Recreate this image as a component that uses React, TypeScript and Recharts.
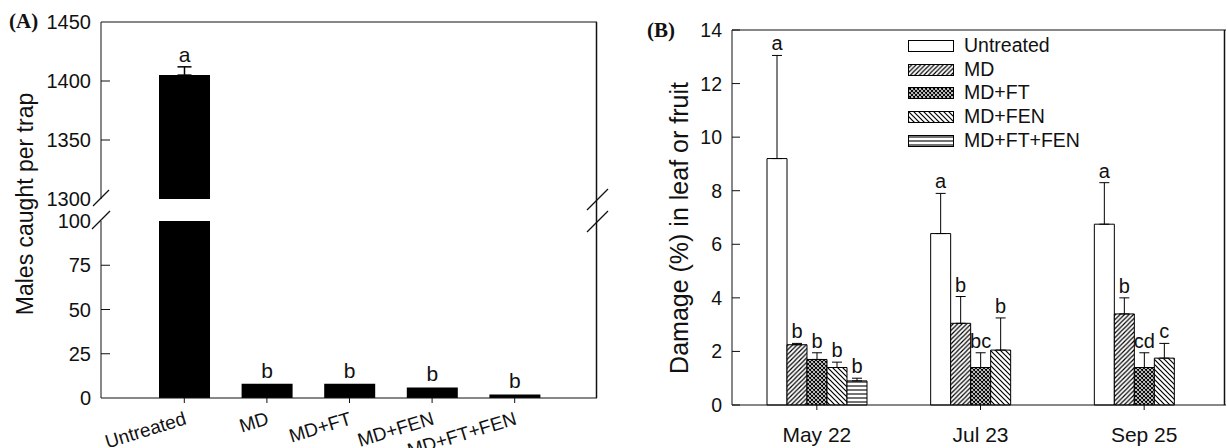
import React from 'react';
import { BarChart, Bar, XAxis, YAxis, ErrorBar, LabelList, Legend, CartesianGrid } from 'recharts';

const FONT = '"Liberation Sans", Arial, Helvetica, sans-serif';
const SERIF = '"Liberation Serif", "Times New Roman", serif';
const INK = '#111';

// ---------- Panel A data ----------
const treatments = ['Untreated', 'MD', 'MD+FT', 'MD+FEN', 'MD+FT+FEN'];
const malesCaught = [1405, 8, 8, 6, 2];
const malesCaughtSE = [7, 0, 0, 0, 0];
const malesLetters = ['a', 'b', 'b', 'b', 'b'];
const upperDomain = [1300, 1450];
const lowerDomain = [0, 100];
const upperTicks = [1300, 1350, 1400, 1450];
const lowerTicks = [0, 25, 50, 75, 100];

// ---------- Panel B data ----------
const dates = ['May 22', 'Jul 23', 'Sep 25'];
const dmgUntreated = [9.2, 6.4, 6.75];
const dmgMD = [2.25, 3.05, 3.4];
const dmgMDFT = [1.7, 1.4, 1.4];
const dmgMDFEN = [1.4, 2.05, 1.75];
const dmgMDFTFEN = [0.9, 0, 0];
const seUntreated = [3.85, 1.5, 1.55];
const seMD = [0.05, 1.0, 0.6];
const seMDFT = [0.25, 0.55, 0.55];
const seMDFEN = [0.2, 1.2, 0.55];
const seMDFTFEN = [0.1, 0, 0];
const letUntreated = ['a', 'a', 'a'];
const letMD = ['b', 'b', 'b'];
const letMDFT = ['b', 'bc', 'cd'];
const letMDFEN = ['b', 'b', 'c'];
const letMDFTFEN = ['b', 'c', 'd'];
const damageDomain = [0, 14];
const damageTicks = [0, 2, 4, 6, 8, 10, 12, 14];

// ---------- layout constants (frame geometry, not data) ----------
const A_PLOT_H = 177;
const B_PLOT_H = 375;
const A_LEFT = 101, A_RIGHT = 597, A_TOP = 22, A_BOTTOM = 398;
const B_LEFT = 732, B_RIGHT = 1226, B_TOP = 30, B_BOTTOM = 405;

const seriesB = [
  { key: 's0', name: treatments[0], fill: '#ffffff', values: dmgUntreated, se: seUntreated, letters: letUntreated },
  { key: 's1', name: treatments[1], fill: 'url(#patMD)', values: dmgMD, se: seMD, letters: letMD },
  { key: 's2', name: treatments[2], fill: 'url(#patMDFT)', values: dmgMDFT, se: seMDFT, letters: letMDFT },
  { key: 's3', name: treatments[3], fill: 'url(#patMDFEN)', values: dmgMDFEN, se: seMDFEN, letters: letMDFEN },
  { key: 's4', name: treatments[4], fill: 'url(#patMDFTFEN)', values: dmgMDFTFEN, se: seMDFTFEN, letters: letMDFTFEN },
];

function letterLabel(letters: (string | null)[], se: number[], ppu: number, fontSize: number, gap: number) {
  return (props: any) => {
    const vb = props.viewBox || {};
    const x = props.x ?? vb.x;
    const y = props.y ?? vb.y;
    const w = props.width ?? vb.width;
    const h = props.height ?? vb.height ?? 0;
    const i = props.index;
    const v = props.value;
    if (v == null || i == null || letters[i] == null || x == null || y == null) return null;
    const top = Math.min(y, y + h);
    const yy = top - (se[i] || 0) * ppu - (v === 0 ? gap * 2 : gap);
    return (
      <text x={x + w / 2} y={yy} textAnchor="middle" fontSize={fontSize} fontFamily={FONT} fill={INK}>
        {letters[i]}
      </text>
    );
  };
}

function makeYTick(fontSize: number, len: number, skip: number[]) {
  return (props: any) => {
    const { x, y, payload } = props;
    const axisX = x + 10;
    return (
      <g>
        {!skip.includes(payload.value) && (
          <line x1={axisX} x2={axisX + len} y1={y} y2={y} stroke={INK} strokeWidth={1} />
        )}
        <text x={x} y={y} dy="0.36em" textAnchor="end" fontSize={fontSize} fontFamily={FONT} fill={INK}>
          {payload.value}
        </text>
      </g>
    );
  };
}

const SlantTick = (props: any) => {
  const { x, y, payload } = props;
  return (
    <text
      transform={`translate(${x + 3},${y + 21}) rotate(-17)`}
      textAnchor="end"
      fontSize={19}
      fontFamily={FONT}
      fill={INK}
    >
      {payload.value}
    </text>
  );
};

const renderLegend = () => (
  <div style={{ fontFamily: FONT, fontSize: 19.5, color: INK }}>
    {seriesB.map((s) => (
      <div key={s.key} style={{ display: 'flex', alignItems: 'center', height: 23.7, whiteSpace: 'nowrap' }}>
        <svg width={46} height={12} style={{ display: 'block' }}>
          <rect x={0.5} y={0.5} width={45} height={11} fill={s.fill} stroke="#000" strokeWidth={1} />
        </svg>
        <span style={{ marginLeft: 10, lineHeight: '23.7px' }}>{s.name}</span>
      </div>
    ))}
  </div>
);

// top edge of the plot area, from the chart's own offset
const topEdge = (p: any) => [p.offset.top];

export default function App() {
  const upperData = treatments.map((t, i) => ({
    name: t,
    value: malesCaught[i] > upperDomain[0] ? malesCaught[i] : null,
    err: [0, malesCaughtSE[i]],
  }));
  const lowerData = treatments.map((t, i) => ({ name: t, value: malesCaught[i] }));
  const upperLetters = malesLetters.map((l, i) => (malesCaught[i] > upperDomain[0] ? l : null));
  const lowerLetters = malesLetters.map((l, i) => (malesCaught[i] <= lowerDomain[1] ? l : null));
  const upperPPU = A_PLOT_H / (upperDomain[1] - upperDomain[0]);
  const lowerPPU = A_PLOT_H / (lowerDomain[1] - lowerDomain[0]);
  const bPPU = B_PLOT_H / (damageDomain[1] - damageDomain[0]);

  const dataB = dates.map((d, i) => {
    const row: any = { date: d };
    seriesB.forEach((s) => {
      row[s.key] = s.values[i];
      row[s.key + 'e'] = [0, s.se[i]];
    });
    return row;
  });

  const axisStroke = { stroke: INK, strokeWidth: 1 };

  return (
    <div style={{ position: 'absolute', left: 0, top: 0, width: 1227, height: 448, background: '#fff', overflow: 'hidden' }}>
      <svg width={0} height={0} style={{ position: 'absolute' }}>
        <defs>
          <pattern id="patMD" patternUnits="userSpaceOnUse" width={4.5} height={4.5}>
            <rect width={4.5} height={4.5} fill="#fff" />
            <path d="M-1,1 L1,-1 M0,4.5 L4.5,0 M3.5,5.5 L5.5,3.5" stroke="#000" strokeWidth={1.2} />
          </pattern>
          <pattern id="patMDFT" patternUnits="userSpaceOnUse" width={4} height={4}>
            <rect width={4} height={4} fill="#fff" />
            <path d="M-1,1 L1,-1 M0,4 L4,0 M3,5 L5,3 M-1,3 L1,5 M0,0 L4,4 M3,-1 L5,1" stroke="#000" strokeWidth={1.1} />
          </pattern>
          <pattern id="patMDFEN" patternUnits="userSpaceOnUse" width={5} height={5}>
            <rect width={5} height={5} fill="#fff" />
            <path d="M-1,4 L1,6 M0,0 L5,5 M4,-1 L6,1" stroke="#000" strokeWidth={1.2} />
          </pattern>
          <pattern id="patMDFTFEN" patternUnits="userSpaceOnUse" width={4} height={4}>
            <rect width={4} height={4} fill="#fff" />
            <path d="M0,2 L4,2" stroke="#000" strokeWidth={1.1} />
          </pattern>
        </defs>
      </svg>

      {/* Panel A - lower segment */}
      <div style={{ position: 'absolute', left: 0, top: 200 }}>
        <BarChart width={620} height={248} data={lowerData} margin={{ top: 21, right: 620 - A_RIGHT, bottom: 0, left: A_LEFT - 60 }}>
          <XAxis
            dataKey="name"
            height={50}
            padding={{ left: 42, right: 41 }}
            tickSize={5}
            tickMargin={0}
            tickLine={axisStroke}
            axisLine={axisStroke}
            tick={<SlantTick />}
            interval={0}
          />
          <YAxis
            domain={lowerDomain}
            ticks={lowerTicks}
            allowDataOverflow
            width={60}
            tickSize={0}
            tickMargin={10}
            tickLine={false}
            axisLine={axisStroke}
            tick={makeYTick(20, 9, [0, 100])}
            interval={0}
          />
          <Bar dataKey="value" fill="#000" barSize={51} isAnimationActive={false}>
            <LabelList dataKey="value" content={letterLabel(lowerLetters, malesCaughtSE, lowerPPU, 21, 6)} />
          </Bar>
        </BarChart>
      </div>

      {/* Panel A - upper segment */}
      <div style={{ position: 'absolute', left: 0, top: 0 }}>
        <BarChart width={620} height={212} data={upperData} margin={{ top: A_TOP, right: 620 - A_RIGHT, bottom: 13, left: A_LEFT - 60 }}>
          <CartesianGrid stroke={INK} strokeWidth={1} fill="none" vertical={false} horizontalCoordinatesGenerator={topEdge} />
          <XAxis dataKey="name" hide height={0} padding={{ left: 42, right: 41 }} />
          <YAxis
            domain={upperDomain}
            ticks={upperTicks}
            allowDataOverflow
            width={60}
            tickSize={0}
            tickMargin={10}
            tickLine={false}
            axisLine={axisStroke}
            tick={makeYTick(20, 9, [1300, 1450])}
            interval={0}
          />
          <Bar dataKey="value" fill="#000" barSize={51} isAnimationActive={false}>
            <ErrorBar dataKey="err" width={7} stroke="#000" strokeWidth={1.5} direction="y" isAnimationActive={false} />
            <LabelList dataKey="value" content={letterLabel(upperLetters, malesCaughtSE, upperPPU, 21, 5)} />
          </Bar>
        </BarChart>
      </div>

      {/* Panel B */}
      <div style={{ position: 'absolute', left: 620, top: 0 }}>
        <BarChart width={607} height={448} data={dataB} margin={{ top: B_TOP, right: 1227 - B_RIGHT, bottom: 0, left: B_LEFT - 620 - 60 }} barGap={0}>
          <CartesianGrid stroke={INK} strokeWidth={1} fill="none" vertical={false} horizontalCoordinatesGenerator={topEdge} />
          <XAxis
            dataKey="date"
            height={448 - B_BOTTOM}
            padding={{ left: 3, right: 0 }}
            tickSize={5}
            tickMargin={17}
            tickLine={axisStroke}
            axisLine={axisStroke}
            tick={{ fontSize: 21, fontFamily: FONT, fill: INK }}
          />
          <YAxis
            domain={damageDomain}
            ticks={damageTicks}
            width={60}
            tickSize={0}
            tickMargin={10}
            tickLine={false}
            axisLine={axisStroke}
            tick={makeYTick(19.5, 8, [])}
            interval={0}
          />
          <Legend
            layout="vertical"
            align="center"
            verticalAlign="middle"
            wrapperStyle={{ left: 288, top: 34, width: 200 }}
            content={renderLegend}
          />
          {seriesB.map((s) => (
            <Bar key={s.key} dataKey={s.key} name={s.name} fill={s.fill} stroke="#000" strokeWidth={1} barSize={20} isAnimationActive={false}>
              <ErrorBar dataKey={s.key + 'e'} width={5} stroke="#000" strokeWidth={1} direction="y" isAnimationActive={false} />
              <LabelList dataKey={s.key} content={letterLabel(s.letters, s.se, bPPU, 20, 5)} />
            </Bar>
          ))}
        </BarChart>
      </div>

      {/* Right frame edges as plain HTML boxes */}
      <div style={{ position: 'absolute', left: A_RIGHT - 1, top: A_TOP, width: 0, height: A_BOTTOM - A_TOP, borderLeft: `1.5px solid ${INK}`, zIndex: 5 }} />
      <div style={{ position: 'absolute', left: B_RIGHT - 2, top: B_TOP, width: 0, height: B_BOTTOM - B_TOP, borderLeft: `1.5px solid ${INK}`, zIndex: 5 }} />

      {/* Overlay: panel tags, axis titles, axis-break marks */}
      <svg width={1227} height={448} style={{ position: 'absolute', left: 0, top: 0, pointerEvents: 'none', zIndex: 6 }}>
        <text x={9} y={28} fontFamily={SERIF} fontWeight="bold" fontSize={21} fill={INK}>(A)</text>
        <text x={647} y={37} fontFamily={SERIF} fontWeight="bold" fontSize={21} fill={INK}>(B)</text>
        <text x={33} y={204} transform="rotate(-90 33 204)" textAnchor="middle" fontFamily={FONT} fontSize={23} fill={INK}>
          Males caught per trap
        </text>
        <text x={688} y={228} transform="rotate(-90 688 228)" textAnchor="middle" fontFamily={FONT} fontSize={25} fill={INK}>
          Damage (%) in leaf or fruit
        </text>
        <line x1={A_RIGHT - 0.5} y1={A_TOP} x2={A_RIGHT - 0.5} y2={A_BOTTOM} stroke={INK} strokeWidth={1.5} />
        <line x1={B_RIGHT - 1.5} y1={B_TOP} x2={B_RIGHT - 1.5} y2={B_BOTTOM} stroke={INK} strokeWidth={1.5} />
        <line x1={93} y1={206} x2={109} y2={190} stroke={INK} strokeWidth={1.2} />
        <line x1={92} y1={229} x2={110} y2={211} stroke={INK} strokeWidth={1.2} />
        <line x1={587} y1={210} x2={608} y2={189} stroke={INK} strokeWidth={1.2} />
        <line x1={587} y1={232} x2={608} y2={211} stroke={INK} strokeWidth={1.2} />
      </svg>
    </div>
  );
}
